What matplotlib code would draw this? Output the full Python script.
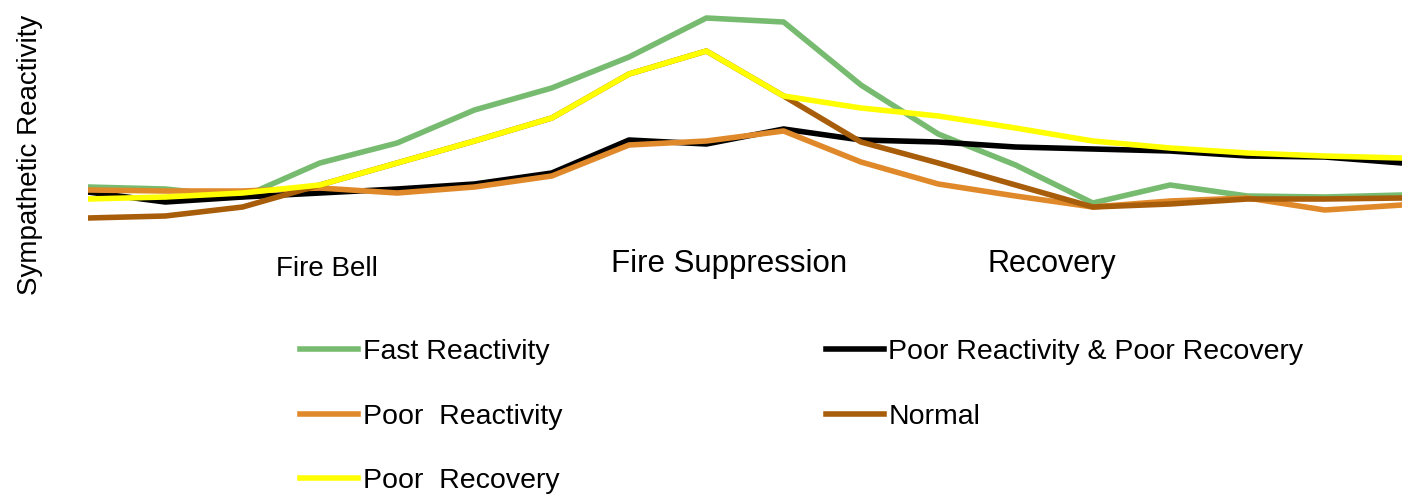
import matplotlib
matplotlib.use("Agg")
from matplotlib import pyplot as plt

plt.rcParams['font.family'] = ['Liberation Sans', 'DejaVu Sans']

# 18 sampling points across the fire call
time_points = list(range(18))

fast_reactivity = [63, 61, 53, 87, 107, 140, 162, 193, 232, 228, 165, 116, 85, 47, 65, 54, 53, 55]
poor_react_poor_rec = [58, 48, 53, 57, 61, 66, 77, 110, 106, 121, 110, 108, 103, 101, 99, 94, 93, 87]
poor_reactivity = [60, 59, 59, 62, 57, 63, 74, 105, 109, 119, 88, 66, 54, 43, 49, 52, 40, 45]
normal = [32, 34, 43, 65, 87, 109, 132, 176, 199, 154, 108, 87, 65, 43, 46, 51, 51, 52]
poor_recovery = [51, 53, 57, 65, 87, 109, 132, 176, 199, 154, 142, 134, 122, 109, 102, 97, 94, 92]

phase_labels = ["Fire Bell", "Fire Suppression", "Recovery"]
phase_pos = [3.09, 8.29, 12.47]
phase_y = [-19, -14, -14]
phase_size = [20, 22.5, 22]

fig = plt.figure(figsize=(14.02, 4.96), dpi=100)
ax = fig.add_axes([88 / 1402, 1 - 250 / 496, 1 - 88 / 1402, 250 / 496])

lw = 4
l_fast, = ax.plot(time_points, fast_reactivity, color='#77BB70', lw=lw, label='Fast Reactivity')
l_prpr, = ax.plot(time_points, poor_react_poor_rec, color='black', lw=lw,
                  label='Poor Reactivity & Poor Recovery')
l_preact, = ax.plot(time_points, poor_reactivity, color='#E0892A', lw=lw, label='Poor  Reactivity')
l_norm, = ax.plot(time_points, normal, color='#A85D0A', lw=lw, label='Normal')
l_prec, = ax.plot(time_points, poor_recovery, color='#FFFF00', lw=lw, label='Poor  Recovery')

ax.set_xlim(0, 17)
ax.set_ylim(0, 250)
ax.axis('off')

for lab, x, y, fs in zip(phase_labels, phase_pos, phase_y, phase_size):
    ax.text(x, y, lab, ha='center', va='center', fontsize=fs)

fig.text(30 / 1402, 1 - 155 / 496, "Sympathetic Reactivity", rotation=90,
         ha='center', va='center', fontsize=20)

handles = [l_fast, l_preact, l_prec, l_prpr, l_norm]
fig.legend(handles=handles, labels=[h.get_label() for h in handles], ncol=2,
           loc='upper left', bbox_to_anchor=(300 / 1402, 1 - 339 / 496),
           frameon=False, fontsize=20.5, handlelength=2.05, handletextpad=0.15,
           columnspacing=9.25, labelspacing=1.36, borderpad=0, borderaxespad=0)

fig.savefig("out.png", dpi=100)
